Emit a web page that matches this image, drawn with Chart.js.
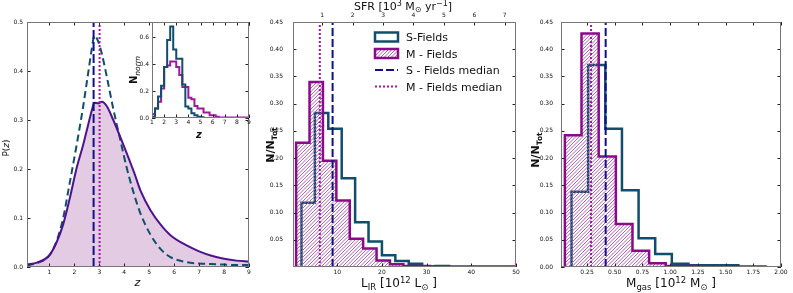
<!DOCTYPE html>
<html>
<head>
<meta charset="utf-8">
<title>P(z), L_IR and M_gas distributions</title>
<script src="https://cdn.jsdelivr.net/npm/chart.js@4.4.1/dist/chart.umd.min.js"></script>
<style>
  html, body { margin: 0; padding: 0; background: #fff; }
  #fig { position: relative; width: 793px; height: 293px; overflow: hidden; }
  #fig canvas { position: absolute; left: 0; top: 0; }
</style>
</head>
<body>
<div id="fig">
  <canvas id="pz" width="793" height="293"></canvas>
  <canvas id="inset" width="793" height="293"></canvas>
  <canvas id="lir" width="793" height="293"></canvas>
  <canvas id="gas" width="793" height="293"></canvas>
</div>
<script>
// ---- left panel: redshift probability curves ----
const zGrid = [0.1, 0.5, 1.0, 1.3, 1.55, 1.8, 2.1, 2.35, 2.55, 2.7, 2.8, 2.95, 3.1, 3.3, 3.55, 3.85, 4.1, 4.4, 4.65, 5.05, 5.45, 5.85, 6.5, 7, 7.5, 8, 8.5, 9];
const pzS = [0.003, 0.008, 0.024, 0.055, 0.100, 0.168, 0.252, 0.327, 0.395, 0.446, 0.472, 0.461, 0.435, 0.388, 0.325, 0.257, 0.202, 0.147, 0.109, 0.066, 0.037, 0.020, 0.010, 0.007, 0.006, 0.005, 0.004, 0.004];
const pzM = [0.005, 0.009, 0.024, 0.052, 0.087, 0.137, 0.204, 0.249, 0.290, 0.320, 0.335, 0.334, 0.337, 0.328, 0.301, 0.264, 0.232, 0.192, 0.156, 0.116, 0.087, 0.065, 0.044, 0.032, 0.023, 0.017, 0.013, 0.011];
const zMedianS = 2.77;
const zMedianM = 3.01;
const zTicks = [1, 2, 3, 4, 5, 6, 7, 8, 9];
const pzTicks = [0, 0.1, 0.2, 0.3, 0.4, 0.5];

// inset: normalised redshift histograms
const insetEdgesS = [1.0, 1.25, 1.5, 1.75, 2.0, 2.25, 2.5, 2.75, 3.0, 3.25, 3.5, 3.75, 4.0, 4.25, 4.5, 4.75, 5.0, 5.25];
const insetS = [0.01, 0.07, 0.16, 0.24, 0.38, 0.58, 0.68, 0.51, 0.44, 0.44, 0.25, 0.085, 0.07, 0.035, 0.02, 0.01, 0.005];
const insetEdgesM = [1.0, 1.25, 1.5, 1.75, 2.0, 2.25, 2.5, 2.75, 3.0, 3.25, 3.5, 3.75, 4.0, 4.25, 4.5, 4.75, 5.0, 5.25, 5.5, 5.75, 6.0, 6.25, 6.5, 9.0];
const insetM = [0.03, 0.07, 0.12, 0.22, 0.38, 0.39, 0.42, 0.42, 0.38, 0.32, 0.23, 0.23, 0.15, 0.14, 0.09, 0.07, 0.07, 0.04, 0.04, 0.02, 0.02, 0.01, 0.003];
const insetYTicks = [0, 0.2, 0.4, 0.6];

// ---- middle panel: L_IR histograms ----
const lirEdgesS = [2, 5, 8, 11, 14, 17, 20, 23, 26, 29, 32, 35];
const lirS = [0.118, 0.283, 0.254, 0.163, 0.082, 0.047, 0.0215, 0.011, 0.006, 0.001, 0.002];
const lirEdgesM = [0.8, 3.8, 6.8, 9.8, 12.8, 15.8, 18.8, 21.8, 24.8, 27.8, 30.8, 33.8, 36.8, 39.8, 42.8, 45.8, 48.8, 50];
const lirM = [0.228, 0.340, 0.195, 0.122, 0.052, 0.034, 0.012, 0.005, 0.002, 0.002, 0.001, 0.001, 0.001, 0.001, 0.001, 0.001, 0.001];
const lirMedianS = 8.96;
const lirMedianM = 6.1;
const lirTicks = [10, 20, 30, 40, 50];
const sfrTicks = [1, 2, 3, 4, 5, 6, 7];
const lirFracTicks = [0.05, 0.10, 0.15, 0.20, 0.25, 0.30, 0.35, 0.40, 0.45];

// ---- right panel: gas mass histograms ----
const gasEdgesS = [0.11, 0.26, 0.415, 0.565, 0.715, 0.865, 1.015, 1.165, 1.315, 1.465, 1.615];
const gasS = [0.138, 0.371, 0.254, 0.141, 0.053, 0.024, 0.006, 0.003, 0.003, 0.003];
const gasEdgesM = [0.05, 0.20, 0.355, 0.51, 0.66, 0.81, 0.96, 1.11, 1.26, 1.41, 1.56, 1.71, 1.86];
const gasM = [0.242, 0.429, 0.203, 0.079, 0.030, 0.007, 0.002, 0.002, 0.001, 0.001, 0.001, 0.001];
const gasMedianS = 0.418;
const gasMedianM = 0.286;
const gasTicks = [0.25, 0.50, 0.75, 1.00, 1.25, 1.50, 1.75, 2.00];
const gasFracTicks = [0, 0.05, 0.10, 0.15, 0.20, 0.25, 0.30, 0.35, 0.40, 0.45];

const FONT = '"DejaVu Sans", sans-serif';
Chart.defaults.font.family = FONT;
Chart.defaults.color = '#111';

const TEAL = '#104e6c';
const PURPLE = '#8a0a8a';
const INSET_PURPLE = '#9c1a9c';
const INDIGO = '#4e128c';
const NAVY = '#10108c';
const MAGENTA = '#a21aa2';
const HATCH = '#b063b4';

// step outline: start at first edge on zero, one point per bin, drop to zero at last edge
function histPoints(edges, vals) {
  const pts = [{x: edges[0], y: 0}];
  vals.forEach((v, i) => pts.push({x: edges[i], y: v}));
  pts.push({x: edges[edges.length - 1], y: 0});
  return pts;
}

function hist(label, edges, vals, color, width, extra) {
  return Object.assign({
    label, data: histPoints(edges, vals), borderColor: color, borderWidth: width,
    stepped: 'before', pointRadius: 0, fill: false
  }, extra);
}

function median(label, x, top, color, dash) {
  return {label, data: [{x, y: 0}, {x, y: top}], borderColor: color, borderWidth: 2,
    borderDash: dash, pointRadius: 0, fill: false, order: 0};
}

function hAxis(min, max, list, digits, h, pad, pos) {
  return {
    type: 'linear', position: pos || 'bottom', min, max, bounds: 'data',
    grid: {display: false, drawTicks: false}, border: {display: false},
    afterBuildTicks: s => { s.ticks = list.map(v => ({value: v})); },
    afterFit: s => { s.height = h; },
    ticks: {autoSkip: false, maxRotation: 0, padding: pad, font: {size: 6}, callback: v => v.toFixed(digits)}
  };
}

function vAxis(min, max, list, digits, w, pad) {
  return {
    type: 'linear', min, max, bounds: 'data',
    grid: {display: false, drawTicks: false}, border: {display: false},
    afterBuildTicks: s => { s.ticks = list.map(v => ({value: v})); },
    afterFit: s => { s.width = w; },
    ticks: {autoSkip: false, padding: pad, font: {size: 6}, callback: v => v.toFixed(digits)}
  };
}

// diagonal '/' lines inside whatever path is currently clipped
function strokeHatch(ctx, l, t, r, b) {
  ctx.strokeStyle = HATCH;
  ctx.lineWidth = 1;
  ctx.beginPath();
  for (let k = l - (b - t); k < r; k += 3.5) {
    ctx.moveTo(k, b);
    ctx.lineTo(k + (b - t), t);
  }
  ctx.stroke();
}

// hatch drawn just before the hatched dataset's outline (so it covers the S outline)
const hatchPlugin = {
  id: 'hatch',
  beforeDatasetDraw(chart, args) {
    const ds = chart.data.datasets[args.index];
    if (!ds.hatch) return;
    const pts = args.meta.data;
    const a = chart.chartArea;
    const ctx = chart.ctx;
    ctx.save();
    ctx.beginPath();
    ctx.rect(a.left, a.top, a.right - a.left, a.bottom - a.top);
    ctx.clip();
    ctx.beginPath();
    ctx.moveTo(pts[0].x, pts[0].y);
    for (let i = 1; i < pts.length; i++) {
      ctx.lineTo(pts[i].x, pts[i - 1].y);
      ctx.lineTo(pts[i].x, pts[i].y);
    }
    ctx.closePath();
    ctx.clip();
    strokeHatch(ctx, a.left, a.top, a.right, a.bottom);
    ctx.restore();
  }
};

// frame + inward tick marks like the matplotlib original
function framePlugin(mirrorX, mirrorY, white) {
  return {
    id: 'frame',
    beforeDatasetsDraw(chart) {
      if (!white) return;
      const {ctx, chartArea: a} = chart;
      ctx.save();
      ctx.fillStyle = '#fff';
      ctx.fillRect(a.left, a.top, a.right - a.left, a.bottom - a.top);
      ctx.restore();
    },
    afterDatasetsDraw(chart) {
      const {ctx, chartArea: a} = chart;
      ctx.save();
      ctx.lineWidth = 1;
      ctx.strokeStyle = '#222';
      ctx.beginPath();
      Object.values(chart.scales).forEach(s => {
        s.ticks.forEach(t => {
          const p = Math.round(s.getPixelForValue(t.value)) + 0.5;
          if (s.isHorizontal()) {
            if (s.position === 'top' || mirrorX) { ctx.moveTo(p, a.top); ctx.lineTo(p, a.top + 3.5); }
            if (s.position === 'bottom') { ctx.moveTo(p, a.bottom); ctx.lineTo(p, a.bottom - 3.5); }
          } else {
            ctx.moveTo(a.left, p); ctx.lineTo(a.left + 3.5, p);
            if (mirrorY) { ctx.moveTo(a.right, p); ctx.lineTo(a.right - 3.5, p); }
          }
        });
      });
      ctx.stroke();
      ctx.strokeStyle = '#777';
      ctx.strokeRect(Math.round(a.left) + 0.5, Math.round(a.top) + 0.5,
        Math.round(a.right - a.left) - 1, Math.round(a.bottom - a.top) - 1);
      ctx.restore();
    }
  };
}

// axis titles with sub/superscripts
function textPlugin(items) {
  const fontOf = p => `${p.st || 'normal'} ${p.w || 'normal'} ${p.s}px ${FONT}`;
  return {
    id: 'richText',
    afterDraw(chart) {
      const ctx = chart.ctx;
      items.forEach(it => {
        ctx.save();
        ctx.translate(it.x, it.y);
        if (it.rot) ctx.rotate(it.rot);
        let w = 0;
        it.parts.forEach(p => { ctx.font = fontOf(p); w += ctx.measureText(p.t).width; });
        let x = -w / 2;
        ctx.fillStyle = '#111';
        ctx.textAlign = 'left';
        ctx.textBaseline = 'alphabetic';
        it.parts.forEach(p => {
          ctx.font = fontOf(p);
          ctx.fillText(p.t, x, p.dy || 0);
          x += ctx.measureText(p.t).width;
        });
        ctx.restore();
      });
    }
  };
}

const legendPlugin = {
  id: 'boxLegend',
  afterDraw(chart) {
    const ctx = chart.ctx;
    const x0 = chart.chartArea.left + 82, w = 23, tx = x0 + 31;
    chart.data.datasets.forEach((ds, i) => {
      const cy = 37 + i * 16.5;
      ctx.save();
      if (ds.stepped) {
        ctx.fillStyle = '#fff';
        ctx.fillRect(x0, cy - 4.5, w, 9);
        if (ds.hatch) {
          ctx.save();
          ctx.beginPath();
          ctx.rect(x0, cy - 4.5, w, 9);
          ctx.clip();
          strokeHatch(ctx, x0, cy - 4.5, x0 + w, cy + 4.5);
          ctx.restore();
        }
        ctx.lineWidth = ds.borderWidth;
        ctx.strokeStyle = ds.borderColor;
        ctx.strokeRect(x0, cy - 4.5, w, 9);
      } else {
        ctx.lineWidth = ds.borderWidth;
        ctx.strokeStyle = ds.borderColor;
        ctx.setLineDash(ds.borderDash);
        ctx.beginPath();
        ctx.moveTo(x0, cy); ctx.lineTo(x0 + w, cy);
        ctx.stroke();
      }
      ctx.fillStyle = '#111';
      ctx.font = `11px ${FONT}`;
      ctx.textBaseline = 'alphabetic';
      ctx.fillText(ds.label, tx, cy + 4);
      ctx.restore();
    });
  }
};

function baseOptions(padding, scales) {
  return {
    responsive: false, animation: false, devicePixelRatio: 1, events: [],
    layout: {padding},
    plugins: {legend: {display: false}, tooltip: {enabled: false}, filler: {drawTime: 'beforeDatasetsDraw'}},
    scales
  };
}

const HALF_PI = Math.PI / 2;

// left panel
new Chart(document.getElementById('pz'), {
  type: 'line',
  data: {
    datasets: [
      median('S - Fields median', zMedianS, 0.5, NAVY, [9, 3]),
      median('M - Fields median', zMedianM, 0.5, MAGENTA, [2, 2]),
      {label: 'M - Fields', data: zGrid.map((z, i) => ({x: z, y: pzM[i]})), borderColor: INDIGO, borderWidth: 2,
        backgroundColor: '#e4cbe4', fill: 'origin', pointRadius: 0, cubicInterpolationMode: 'monotone', order: 1},
      {label: 'S-Fields', data: zGrid.map((z, i) => ({x: z, y: pzS[i]})), borderColor: TEAL, borderWidth: 2,
        borderDash: [7, 4], fill: false, pointRadius: 0, cubicInterpolationMode: 'monotone', order: 2}
    ]
  },
  options: baseOptions({left: 0, right: 544, top: 22, bottom: 0}, {
    x: hAxis(0.1, 9, zTicks, 0, 26, 2),
    y: vAxis(0, 0.5, pzTicks, 1, 27, 4)
  }),
  plugins: [framePlugin(true, true, false), textPlugin([
    {x: 9, y: 148, rot: -HALF_PI, parts: [{t: 'P(', s: 9}, {t: 'z', s: 9, st: 'italic'}, {t: ')', s: 9}]},
    {x: 137.5, y: 286, parts: [{t: 'z', s: 11, st: 'italic'}]}
  ])]
});

// inset
new Chart(document.getElementById('inset'), {
  type: 'line',
  data: {
    datasets: [
      hist('S-Fields', insetEdgesS, insetS, TEAL, 2, {order: 1}),
      hist('M - Fields', insetEdgesM, insetM, INSET_PURPLE, 2, {order: 2})
    ]
  },
  options: baseOptions({left: 130, right: 544, top: 22, bottom: 163}, {
    x: hAxis(1, 9, zTicks, 0, 12, 1),
    y: vAxis(0, 0.714, insetYTicks, 1, 22, 3)
  }),
  plugins: [framePlugin(true, true, true), textPlugin([
    {x: 137, y: 70, rot: -HALF_PI, parts: [{t: 'N', s: 10, w: 'bold'}, {t: 'norm', s: 7.5, st: 'italic', dy: 2.5}]},
    {x: 199, y: 138, parts: [{t: 'z', s: 10, w: 'bold', st: 'italic'}]}
  ])]
});

// middle panel
new Chart(document.getElementById('lir'), {
  type: 'line',
  data: {
    datasets: [
      hist('S-Fields', lirEdgesS, lirS, TEAL, 2.5, {order: 2}),
      hist('M - Fields', lirEdgesM, lirM, PURPLE, 2.5, {order: 1, hatch: true}),
      median('S - Fields median', lirMedianS, 0.45, NAVY, [8, 3]),
      median('M - Fields median', lirMedianM, 0.45, MAGENTA, [2, 2])
    ]
  },
  options: baseOptions({left: 263, right: 277, top: 0, bottom: 0}, {
    x: hAxis(0.1, 50, lirTicks, 0, 26, 2),
    x2: Object.assign(hAxis(0.04, 7.37, sfrTicks, 0, 22, 3, 'top'), {axis: 'x'}),
    y: vAxis(0, 0.45, lirFracTicks, 2, 30, 10)
  }),
  plugins: [hatchPlugin, framePlugin(false, true, false), legendPlugin, textPlugin([
    {x: 274, y: 145, rot: -HALF_PI, parts: [{t: 'N/N', s: 11, w: 'bold'}, {t: 'Tot', s: 7.5, w: 'bold', dy: 2.5}]},
    {x: 399, y: 287, parts: [{t: 'L', s: 12}, {t: 'IR', s: 8.5, dy: 2.5}, {t: ' [10', s: 12}, {t: '12', s: 8.5, dy: -4.5},
      {t: ' L', s: 12}, {t: '⊙', s: 8.5, dy: 2.5}, {t: ' ]', s: 12}]},
    {x: 403, y: 9.5, parts: [{t: 'SFR [10', s: 11}, {t: '3', s: 8, dy: -4}, {t: ' M', s: 11}, {t: '⊙', s: 8, dy: 2.5},
      {t: ' yr', s: 11}, {t: '−1', s: 8, dy: -4}, {t: ']', s: 11}]}
  ])]
});

// right panel
new Chart(document.getElementById('gas'), {
  type: 'line',
  data: {
    datasets: [
      hist('S-Fields', gasEdgesS, gasS, TEAL, 2.5, {order: 2}),
      hist('M - Fields', gasEdgesM, gasM, PURPLE, 2.5, {order: 1, hatch: true}),
      median('S - Fields median', gasMedianS, 0.45, NAVY, [8, 3]),
      median('M - Fields median', gasMedianM, 0.45, MAGENTA, [2, 2])
    ]
  },
  options: baseOptions({left: 531, right: 12, top: 22, bottom: 0}, {
    x: hAxis(0.015, 2.0, gasTicks, 2, 26, 2),
    y: vAxis(0, 0.45, gasFracTicks, 2, 30, 8)
  }),
  plugins: [hatchPlugin, framePlugin(true, true, false), textPlugin([
    {x: 539, y: 150, rot: -HALF_PI, parts: [{t: 'N/N', s: 11, w: 'bold'}, {t: 'Tot', s: 7.5, w: 'bold', dy: 2.5}]},
    {x: 671, y: 287, parts: [{t: 'M', s: 12}, {t: 'gas', s: 8.5, dy: 2.5}, {t: ' [10', s: 12}, {t: '12', s: 8.5, dy: -4.5},
      {t: ' M', s: 12}, {t: '⊙', s: 8.5, dy: 2.5}, {t: ' ]', s: 12}]}
  ])]
});
</script>
</body>
</html>
